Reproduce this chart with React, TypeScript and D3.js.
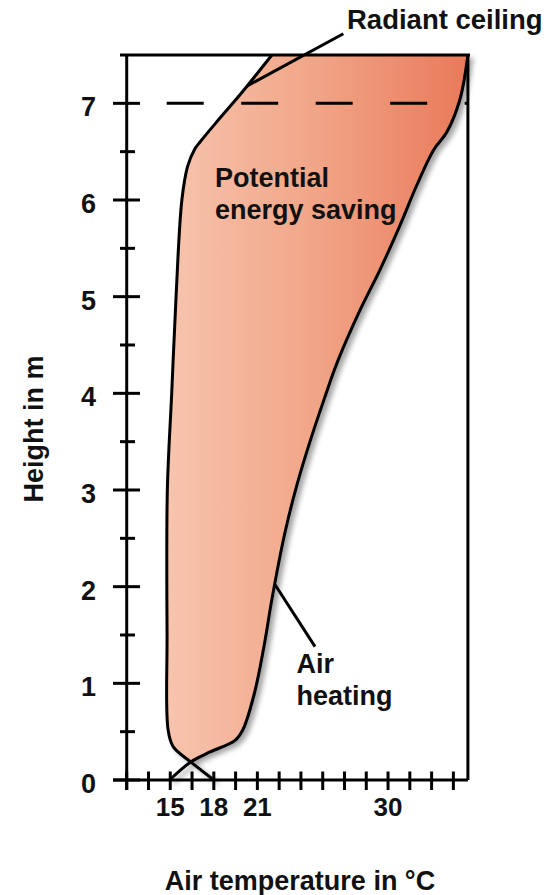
import React from "react";
import * as d3 from "d3";

// Air heating profile (temperature °C, height m)
const airHeatingTemp = [14.95, 16.41, 17.74, 19.46, 20.0, 20.8, 21.5, 22.0, 22.9, 23.7, 24.6, 25.6, 26.5, 28.1, 29.45, 30.8, 31.97, 33.15, 34.04, 34.95, 35.5];
const airHeatingHeight = [0, 0.187, 0.29, 0.41, 0.52, 0.9, 1.42, 1.87, 2.56, 3.04, 3.49, 3.94, 4.32, 4.87, 5.28, 5.73, 6.15, 6.52, 6.7, 7.04, 7.5];

// Radiant ceiling profile (temperature °C, height m)
const radiantTemp = [18.0, 16.41, 15.2, 14.85, 14.78, 14.8, 15.1, 15.4, 15.8, 16.2, 16.7, 17.05, 18.1, 19.3, 20.3, 22.0];
const radiantHeight = [0, 0.187, 0.345, 0.52, 1.5, 3.0, 4.0, 5.0, 6.0, 6.35, 6.53, 6.6, 6.79, 7.0, 7.18, 7.5];

const yMajorTicks = [0, 1, 2, 3, 4, 5, 6, 7];
const yMinorTicks = [0.5, 1.5, 2.5, 3.5, 4.5, 5.5, 6.5];
const xTicks = [12, 13.5, 15, 16.5, 18, 19.5, 21, 22.5, 24, 25.5, 27, 28.5, 30, 31.5, 33, 34.5];
const xTickLabels = [15, 18, 21, 30];
const ceilingHeight = 7;

const labelRadiant = "Radiant ceiling";
const labelSaving = ["Potential", "energy saving"];
const labelAir = ["Air", "heating"];
const xTitle = "Air temperature in °C";
const yTitle = "Height in m";

const W = 549;
const H = 895;
const FONT = "'Liberation Sans', Arial, Helvetica, sans-serif";

export default function App() {
  const x = d3.scaleLinear().domain([12, 35.5]).range([126.7, 467.9]);
  const y = d3.scaleLinear().domain([0, 7.5]).range([780, 55]);

  const airPts: [number, number][] = airHeatingTemp.map((t, i) => [t, airHeatingHeight[i]]);
  const radPts: [number, number][] = radiantTemp.map((t, i) => [t, radiantHeight[i]]);

  const line = d3
    .line<[number, number]>()
    .x((d) => x(d[0]))
    .y((d) => y(d[1]))
    .curve(d3.curveCatmullRom.alpha(0.5));

  const airPath = line(airPts) || "";
  const radPath = line(radPts) || "";
  const upperAir = line(airPts.slice(1)) || "";
  const upperRadRev = line(radPts.slice(1).reverse()) || "";
  const fillPath = upperAir + upperRadRev.replace(/^M/, "L") + "Z";

  const stroke = "#000";
  const sw = 3;

  return (
    <svg
      width={W}
      height={H}
      viewBox={`0 0 ${W} ${H}`}
      style={{ position: "absolute", left: 0, top: 0, display: "block", background: "#fff" }}
    >
      <defs>
        <linearGradient id="fillGrad" gradientUnits="userSpaceOnUse" x1={x(14.5)} y1={0} x2={x(35.5)} y2={0}>
          <stop offset="0%" stopColor="#f7c5af" />
          <stop offset="50%" stopColor="#f1a587" />
          <stop offset="100%" stopColor="#e9795a" />
        </linearGradient>
        <filter id="shadow" x="-20%" y="-20%" width="140%" height="140%">
          <feDropShadow dx={4} dy={3} stdDeviation={2.5} floodColor="#000" floodOpacity={0.35} />
        </filter>
      </defs>

      {/* filled region with curves */}
      <g filter="url(#shadow)">
        <path d={fillPath} fill="url(#fillGrad)" stroke="none" />
        <path d={airPath} fill="none" stroke={stroke} strokeWidth={sw} strokeLinejoin="round" />
        <path d={radPath} fill="none" stroke={stroke} strokeWidth={sw} strokeLinejoin="round" />
      </g>

      {/* frame */}
      <line x1={120} x2={470} y1={y(7.5)} y2={y(7.5)} stroke={stroke} strokeWidth={sw} />
      <line x1={x(35.5)} x2={x(35.5)} y1={y(7.5)} y2={y(0)} stroke={stroke} strokeWidth={sw} />

      {/* dashed ceiling line */}
      <line
        x1={166.7}
        x2={x(35.5)}
        y1={y(ceilingHeight)}
        y2={y(ceilingHeight)}
        stroke={stroke}
        strokeWidth={sw}
        strokeDasharray="37 37.5"
      />

      {/* y axis */}
      <line x1={x(12)} x2={x(12)} y1={y(7.5)} y2={790} stroke={stroke} strokeWidth={sw} />
      {yMajorTicks.map((v) => (
        <g key={"ym" + v}>
          <line x1={113} x2={140} y1={y(v)} y2={y(v)} stroke={stroke} strokeWidth={sw} />
          <text
            x={96}
            y={y(v) + 13}
            textAnchor="end"
            fontFamily={FONT}
            fontWeight="bold"
            fontSize={27}
            fill="#111"
          >
            {v}
          </text>
        </g>
      ))}
      {yMinorTicks.map((v) => (
        <line key={"yn" + v} x1={120} x2={135} y1={y(v)} y2={y(v)} stroke={stroke} strokeWidth={sw} />
      ))}

      {/* x axis */}
      <line x1={113} x2={x(35.5)} y1={y(0)} y2={y(0)} stroke={stroke} strokeWidth={sw} />
      {xTicks.map((v) => (
        <line key={"xt" + v} x1={x(v)} x2={x(v)} y1={771.5} y2={790} stroke={stroke} strokeWidth={sw} />
      ))}
      {xTickLabels.map((v) => (
        <text
          key={"xl" + v}
          x={x(v)}
          y={816}
          textAnchor="middle"
          fontFamily={FONT}
          fontWeight="bold"
          fontSize={26}
          fill="#111"
        >
          {v}
        </text>
      ))}

      {/* annotations */}
      <line x1={x(20.3)} y1={y(7.18)} x2={x(26.92)} y2={y(7.72)} stroke={stroke} strokeWidth={sw} />
      <text x={347} y={28.5} fontFamily={FONT} fontWeight="bold" fontSize={27.5} fill="#111">
        {labelRadiant}
      </text>
      <text x={215} y={186.7} fontFamily={FONT} fontWeight="bold" fontSize={27} fill="#111">
        {labelSaving[0]}
      </text>
      <text x={215} y={219} fontFamily={FONT} fontWeight="bold" fontSize={27} fill="#111">
        {labelSaving[1]}
      </text>

      <line x1={x(22.22)} y1={y(2.02)} x2={x(24.97)} y2={y(1.38)} stroke={stroke} strokeWidth={sw} />
      <text x={296.5} y={673.3} fontFamily={FONT} fontWeight="bold" fontSize={27} fill="#111">
        {labelAir[0]}
      </text>
      <text x={296.5} y={705} fontFamily={FONT} fontWeight="bold" fontSize={27} fill="#111">
        {labelAir[1]}
      </text>

      {/* axis titles */}
      <text x={300} y={890} textAnchor="middle" fontFamily={FONT} fontWeight="bold" fontSize={27} fill="#111">
        {xTitle}
      </text>
      <text
        transform={`translate(43,429) rotate(-90)`}
        textAnchor="middle"
        fontFamily={FONT}
        fontWeight="bold"
        fontSize={27}
        fill="#111"
      >
        {yTitle}
      </text>
    </svg>
  );
}
